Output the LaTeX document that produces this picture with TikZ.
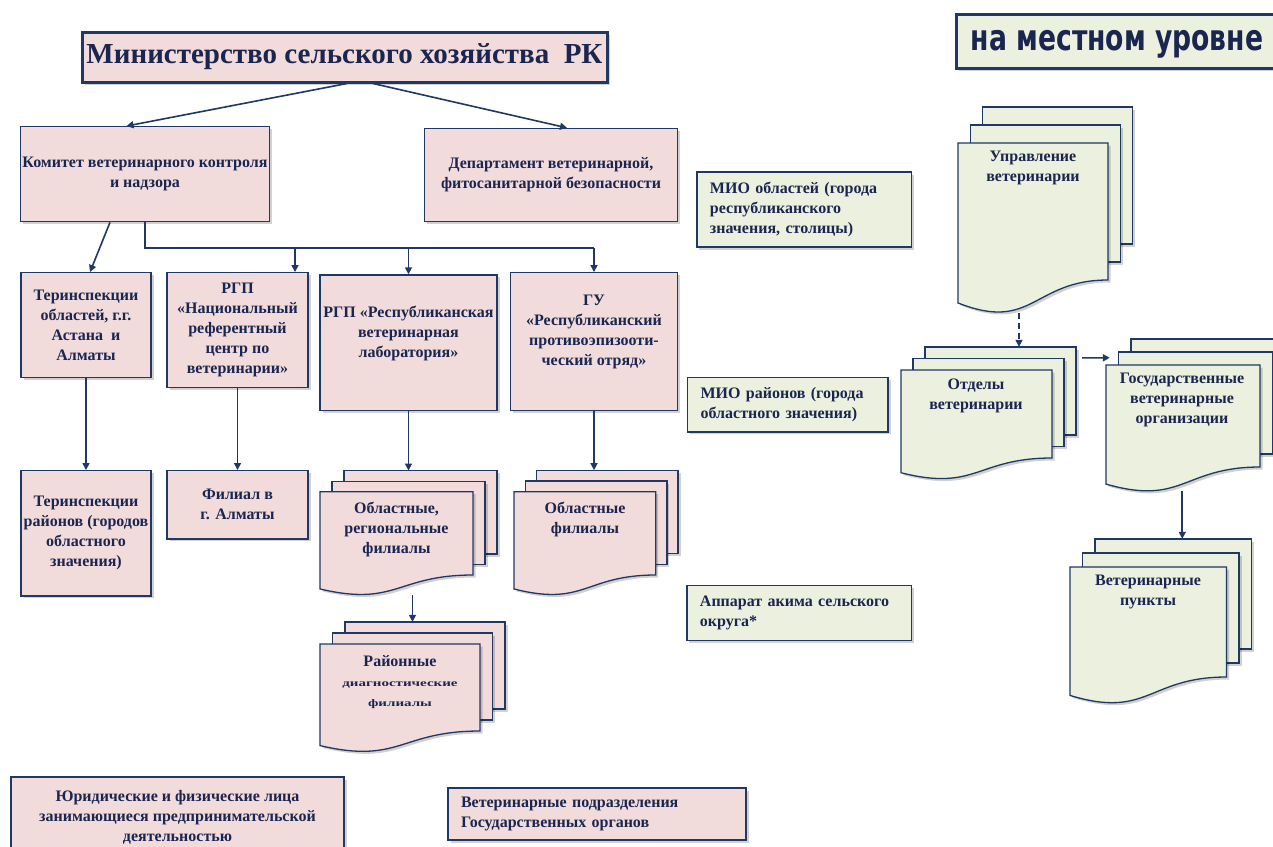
\documentclass[tikz,border=0pt]{standalone}
\usepackage{fontspec}
\setmainfont{Liberation Serif}
\newfontfamily\headfont{DejaVu Sans}[FakeStretch=0.74]
\newfontfamily\widefont{Liberation Serif}[FakeStretch=1.5]
\usetikzlibrary{arrows.meta,calc,fit,shadows}
\definecolor{navy}{HTML}{1F3864}
\definecolor{navytext}{HTML}{1A2550}
\definecolor{pinkfill}{HTML}{F2DCDB}
\definecolor{greenfill}{HTML}{EBF1DE}
\newcommand{\boxfont}{\bfseries\fontsize{16}{20}\selectfont}
\newcommand{\smallwide}{\widefont\bfseries\fontsize{10}{18}\selectfont}

% stack of three sheets: name, fill, front x1, front top, front x2, front right bottom, dx, dy
\newcommand{\multidoc}[8]{%
  \pgfmathsetmacro{\mdh}{(#6-#4)/0.8}%
  \pgfmathsetmacro{\mdm}{(#3+#5)/2}%
  \draw[docline, fill=#2, mshadow] (#3+2*#7, #4-2*#8) rectangle (#5+2*#7, #6-2*#8);
  \draw[docline, fill=#2, mshadow] (#3+#7, #4-#8) rectangle (#5+#7, #6-#8);
  \draw[docline, fill=#2, mshadow] (#3, #4) -- (#5, #4) -- (#5, #6)
    .. controls (\mdm, #6) and (\mdm, #6+0.307*\mdh) .. (#3, #6+0.134*\mdh) -- cycle;
  \node[fit={(#3, #4-2*#8) (#5+2*#7, #6+0.19*\mdh)}, inner sep=0pt] (#1) {};
}

\begin{document}
\begin{tikzpicture}[x=1pt, y=-1pt, >={Triangle[length=7pt,width=7pt]},
    mshadow/.style={drop shadow={shadow xshift=2.5pt, shadow yshift=-2.5pt, opacity=0.18, fill=black}},
    box/.style={draw=navy, line width=1.3pt, text=navytext, font=\boxfont, align=center, inner sep=2pt, mshadow},
    pinkbox/.style={box, fill=pinkfill},
    greenbox/.style={box, fill=greenfill, align=left, inner xsep=13pt},
    docline/.style={draw=navy, line width=1.3pt},
    doclabel/.style={text=navytext, font=\boxfont, align=center, anchor=north, inner sep=0pt},
    link/.style={->, draw=navy, line width=1.6pt}]

                \clip (0, 0) rectangle (1273, 846);
                \fill[white] (0, 0) rectangle (1273, 846);

                % Nodes: republic level
                \node[pinkbox, line width=3pt, minimum width=525pt, minimum height=50pt, font=\bfseries\fontsize{29}{34}\selectfont] at (344.5, 57) (title) {Министерство сельского хозяйства~~РК};
                \node[pinkbox, minimum width=248pt, minimum height=95pt] at (145, 174.2) (kom) {Комитет ветеринарного контроля\\и надзора};
                \node[pinkbox, minimum width=253.5pt, minimum height=93pt] at (551, 175) (dep) {Департамент ветеринарной,\\фитосанитарной безопасности};

                \node[pinkbox, minimum width=130pt, minimum height=105pt] at (86, 325.2) (terobl) {Теринспекции\\областей, г.г.\\Астана~~и\\Алматы};
                \node[pinkbox, minimum width=141pt, minimum height=115pt] at (237.5, 330.2) (nac) {РГП\\«Национальный\\референтный\\центр по\\ветеринарии»};
                \node[pinkbox, minimum width=177pt, minimum height=135.7pt] at (408.5, 342.8) (resp) {};
                \node[doclabel, anchor=center] at (408.5, 333) (resp-t) {РГП «Республиканская\\ветеринарная\\лаборатория»};
                \node[pinkbox, minimum width=166.5pt, minimum height=138pt] at (594, 341.7) (gu) {};
                \node[doclabel, anchor=center] at (594, 331.5) (gu-t) {ГУ\\«Республиканский\\противоэпизооти-\\ческий отряд»};

                \node[pinkbox, minimum width=130pt, minimum height=125.3pt] at (86, 533.3) (terraion) {Теринспекции\\районов (городов\\областного\\значения)};
                \node[pinkbox, minimum width=141pt, minimum height=68.3pt] at (237.5, 504.8) (filial) {Филиал в\\г. Алматы};

                \multidoc{regfil}{pinkfill}{320}{491.7}{473}{575}{12}{10.5}
                \node[doclabel] at (396.5, 502) (regfil-t) {Областные,\\региональные\\филиалы};
                \multidoc{gufil}{pinkfill}{514}{491.7}{655.7}{575}{11.2}{10.7}
                \node[doclabel] at (585, 502) (gufil-t) {Областные\\филиалы};
                \multidoc{raifil}{pinkfill}{320}{644}{480}{731}{12.5}{11}
                \node[doclabel] at (400, 655) (raifil-t) {Районные\\{\smallwide диагностические}\\{\smallwide филиалы}};

                \node[pinkbox, minimum width=333pt, minimum height=81pt] at (177.5, 817.5) (yur) {Юридические и физические лица\\занимающиеся предпринимательской\\деятельностью};
                \node[pinkbox, align=left, inner xsep=13pt, text width=272pt, minimum height=52pt] at (597, 814) (vetpod) {Ветеринарные подразделения\\Государственных органов};

                % Nodes: local level
                \node[box, fill=greenfill, line width=3pt, minimum width=322pt, minimum height=54pt, text height=19pt, text depth=0pt, font=\headfont\bfseries\fontsize{36}{40}\selectfont] at (1117, 41) (local) {на местном уровне};
                \node[greenbox, text width=188.5pt, minimum height=75pt] at (804.2, 209.5) (mio1) {МИО областей (города\\республиканского\\значения, столицы)};
                \node[greenbox, text width=174.4pt, minimum height=54.3pt] at (787.8, 404.8) (mio2) {МИО районов (города\\областного значения)};
                \node[greenbox, text width=198.5pt, minimum height=55pt] at (799.2, 613.2) (akim) {Аппарат акима сельского\\округа*};

                \multidoc{upr}{greenfill}{958}{143}{1108}{280}{12.3}{18}
                \node[doclabel] at (1033, 151) (upr-t) {Управление\\ветеринарии};
                \multidoc{otd}{greenfill}{901}{370}{1052}{458}{12}{11.5}
                \node[doclabel] at (976, 379) (otd-t) {Отделы\\ветеринарии};
                \multidoc{gos}{greenfill}{1106}{365}{1260}{467}{12.5}{13}
                \node[doclabel] at (1182, 373) (gos-t) {Государственные\\ветеринарные\\организации};
                \multidoc{pun}{greenfill}{1070}{567}{1226.5}{677}{12.5}{14}
                \node[doclabel] at (1148, 575) (pun-t) {Ветеринарные\\пункты};

                % Connectors
                \draw[link] ($(title.south)+(2.5,0)$) -- ($(kom.north)+(-18.5,0)$);
                \draw[link] ($(title.south)+(28.5,0)$) -- ($(dep.north)+(16,0)$);
                \draw[link] ($(kom.south)+(-35,0)$) -- ($(terobl.north)+(4,0)$);

                \coordinate (bus) at (0, 248);
                \coordinate (nacin) at ($(nac.north)+(57.5,0)$);
                \draw[link, -] (kom.south) |- (gu.north |- bus);
                \draw[link] (nacin |- bus) -- (nacin);
                \draw[link] (resp.north |- bus) -- (resp.north);
                \draw[link] (gu.north |- bus) -- (gu.north);

                \draw[link] (terobl) -- (terraion);
                \draw[link] (nac) -- (filial);
                \draw[link] (resp.south) -- (regfil.north);
                \draw[link] (gu.south) -- (gu.south |- gufil.north);
                \draw[link] (raifil.north |- regfil.south) -- (raifil.north);

                \coordinate (otdin) at ($(otd.north)+(30.5,0)$);
                \coordinate (punin) at ($(pun.north)+(21.5,0)$);
                \draw[link, dash pattern=on 6pt off 4pt] (otdin |- upr.south) -- (otdin);
                \draw[link] ([shift={(6pt,-11pt)}]otd.north east) -- ([shift={(4pt,-19pt)}]gos.north west);
                \draw[link] (punin |- gos.south) -- (punin);

            \end{tikzpicture}
\end{document}
